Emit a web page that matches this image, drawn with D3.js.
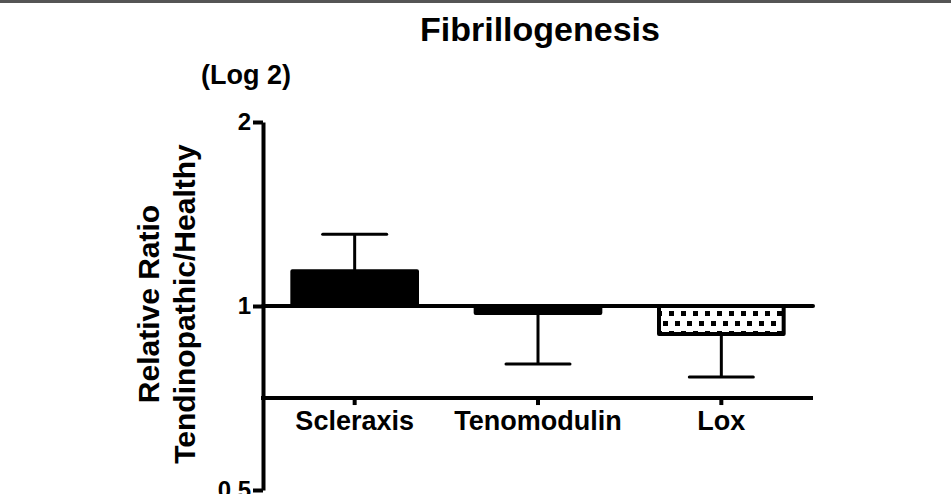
<!DOCTYPE html>
<html>
<head>
<meta charset="utf-8">
<script src="https://cdn.jsdelivr.net/npm/d3@7"></script>
<style>
  body { margin: 0; background: #fff; }
  text { font-family: "Liberation Sans", Arial, sans-serif; font-weight: bold; fill: #000; }
</style>
</head>
<body>
<div id="viz"></div>
<script>
const width = 951;
const height = 494;

// data
const categories = ["Scleraxis", "Tenomodulin", "Lox"];
const ratios = [1.14, 0.974, 0.90];
const errorEnds = [1.31, 0.804, 0.765];
const fills = ["solid", "solid", "checker"];
const yTicks = [0.5, 1, 2];
const xAxisAt = 0.707;

const svg = d3.select('#viz')
    .append("svg")
    .attr('width', width)
    .attr('height', height);

// top border line
svg.append("rect")
    .attr("x", 0).attr("y", 0)
    .attr("width", width).attr("height", 3)
    .attr("fill", "#555");

const defs = svg.append("defs");
const pat = defs.append("pattern")
    .attr("id", "checker")
    .attr("patternUnits", "userSpaceOnUse")
    .attr("width", 12).attr("height", 20)
    .attr("x", 3).attr("y", 1);
pat.append("rect").attr("width", 12).attr("height", 20).attr("fill", "#fff");
pat.append("rect").attr("x", 0).attr("y", 0).attr("width", 5).attr("height", 5).attr("fill", "#000");
pat.append("rect").attr("x", 6).attr("y", 10).attr("width", 5).attr("height", 5).attr("fill", "#000");
pat.append("rect").attr("x", 3).attr("y", 5).attr("width", 5).attr("height", 5).attr("fill", "#000").attr("opacity", 0);

const yScale = d3.scaleLog()
    .base(2)
    .domain([0.5, 2])
    .range([490, 122]);

const xScale = d3.scaleBand()
    .domain(categories)
    .range([263, 813])
    .paddingInner(0.32)
    .paddingOuter(0.16);

// y axis
const yAxis = svg.append("g")
    .attr("transform", "translate(263,0)")
    .call(d3.axisLeft(yScale)
        .tickValues(yTicks)
        .tickFormat(d3.format("~g"))
        .tickSize(10)
        .tickSizeOuter(0)
        .tickPadding(2));
yAxis.select(".domain").attr("stroke", "#000").attr("stroke-width", 4);
yAxis.selectAll(".tick line").attr("stroke", "#000").attr("stroke-width", 4);
yAxis.selectAll(".tick text")
    .attr("font-size", 24)
    .attr("font-family", "Liberation Sans, Arial, sans-serif")
    .attr("font-weight", "bold")
    .attr("fill", "#000");

// x axis (crosses at xAxisAt)
const xAxis = svg.append("g")
    .attr("transform", `translate(0,${yScale(xAxisAt)})`)
    .call(d3.axisBottom(xScale)
        .tickSize(7)
        .tickSizeOuter(0)
        .tickPadding(6));
xAxis.select(".domain").attr("stroke", "#000").attr("stroke-width", 4)
    .attr("d", `M261,0H813`);
xAxis.selectAll(".tick line").attr("stroke", "#000").attr("stroke-width", 4);
xAxis.selectAll(".tick text")
    .attr("font-size", 27)
    .attr("font-family", "Liberation Sans, Arial, sans-serif")
    .attr("font-weight", "bold")
    .attr("fill", "#000");

// bars
const bars = svg.append("g");
categories.forEach((c, i) => {
    const y0 = yScale(1);
    const y1 = yScale(ratios[i]);
    const xm = xScale(c) + xScale.bandwidth() / 2;
    const capW = 64;
    // error bar
    const ye = yScale(errorEnds[i]);
    bars.append("line")
        .attr("x1", xm).attr("x2", xm)
        .attr("y1", y1).attr("y2", ye)
        .attr("stroke", "#000").attr("stroke-width", 3);
    bars.append("line")
        .attr("x1", xm - capW / 2).attr("x2", xm + capW / 2)
        .attr("y1", ye).attr("y2", ye)
        .attr("stroke", "#000").attr("stroke-width", 3)
        .attr("stroke-linecap", "round");
    bars.append("rect")
        .attr("x", xScale(c))
        .attr("y", Math.min(y0, y1))
        .attr("width", xScale.bandwidth())
        .attr("height", Math.abs(y1 - y0))
        .attr("fill", fills[i] === "checker" ? "url(#checker)" : "#000")
        .attr("stroke", "#000")
        .attr("stroke-width", 4)
        .attr("stroke-linejoin", "round");
});

// baseline at 1
svg.append("line")
    .attr("x1", 263).attr("x2", 813)
    .attr("y1", yScale(1)).attr("y2", yScale(1))
    .attr("stroke", "#000").attr("stroke-width", 4)
    .attr("stroke-linecap", "round");

// title
svg.append("text")
    .attr("x", 540).attr("y", 41)
    .attr("text-anchor", "middle")
    .attr("font-size", 34)
    .text("Fibrillogenesis");

svg.append("text")
    .attr("x", 246).attr("y", 84)
    .attr("text-anchor", "middle")
    .attr("font-size", 27)
    .text("(Log 2)");

// y label
const yl = svg.append("text")
    .attr("transform", "translate(0,304) rotate(-90)")
    .attr("text-anchor", "middle")
    .attr("font-size", 30);
yl.append("tspan").attr("x", 0).attr("y", 159).text("Relative Ratio");
yl.append("tspan").attr("x", 0).attr("y", 195).text("Tendinopathic/Healthy");
</script>
</body>
</html>
